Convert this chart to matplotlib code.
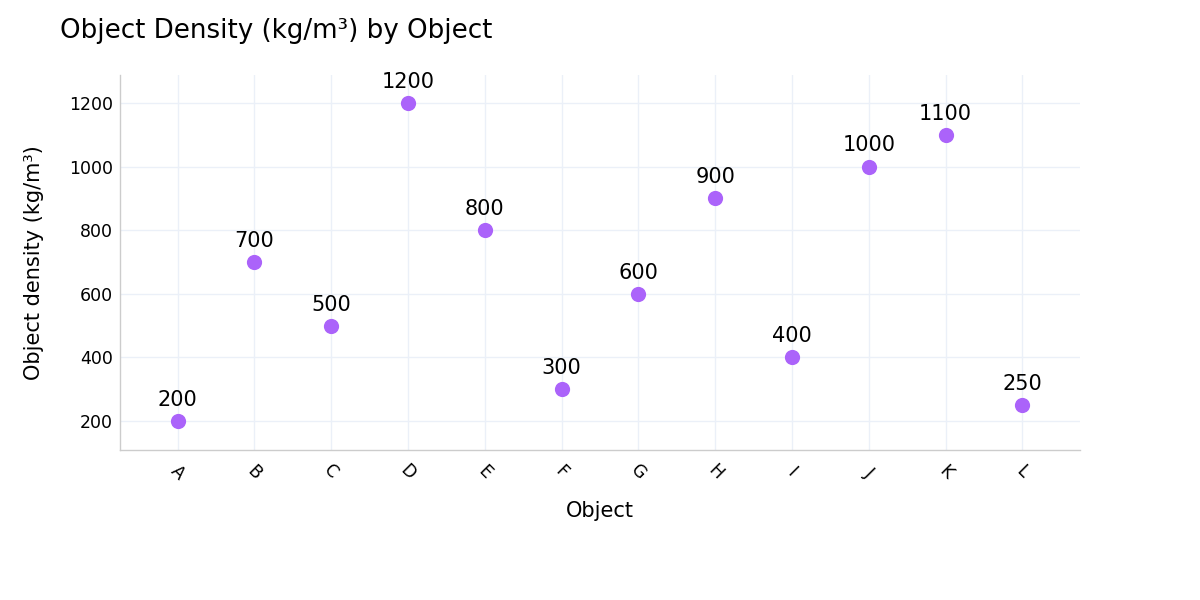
import matplotlib
matplotlib.use("Agg")
import matplotlib.pyplot as plt

objects = ["A", "B", "C", "D", "E", "F", "G", "H", "I", "J", "K", "L"]
densities = [200, 700, 500, 1200, 800, 300, 600, 900, 400, 1000, 1100, 250]
y_ticks = [200, 400, 600, 800, 1000, 1200]

plt.rcParams['font.family'] = ['DejaVu Sans']
fig = plt.figure(figsize=(12, 6), dpi=100)
ax = fig.add_axes([0.1, 0.25, 0.8, 0.625])

x = list(range(len(objects)))
ax.scatter(x, densities, s=120, color="#AB63FA", zorder=3, linewidths=0)
for xi, v in zip(x, densities):
    ax.annotate(str(v), (xi, v), xytext=(0, 8), textcoords="offset points",
                ha="center", va="bottom", fontsize=15, color="black", zorder=4)

ax.set_xlim(-0.75, 11.75)
ax.set_ylim(109, 1288)
ax.set_xticks(x)
ax.set_xticklabels(objects, rotation=-45, fontsize=12.5, ha="center", va="center",
                   rotation_mode="anchor")
ax.tick_params(axis="x", length=0, pad=16)
ax.set_yticks(y_ticks)
ax.set_yticklabels([str(t) for t in y_ticks], fontsize=12.5)
ax.tick_params(axis="y", length=0, pad=5)

ax.grid(True, color="#EBF0F8", linewidth=1)
ax.set_axisbelow(True)
for side in ["top", "right"]:
    ax.spines[side].set_visible(False)
for side in ["left", "bottom"]:
    ax.spines[side].set_color("#CCCCCC")
    ax.spines[side].set_linewidth(1)

ax.set_xlabel("Object", fontsize=15, labelpad=13)
ax.set_ylabel("Object density (kg/m³)", fontsize=15, labelpad=18)
fig.text(0.05, 0.948, "Object Density (kg/m³) by Object", fontsize=18.8, ha="left", va="center")

fig.savefig("out.png", dpi=100, facecolor="white")
